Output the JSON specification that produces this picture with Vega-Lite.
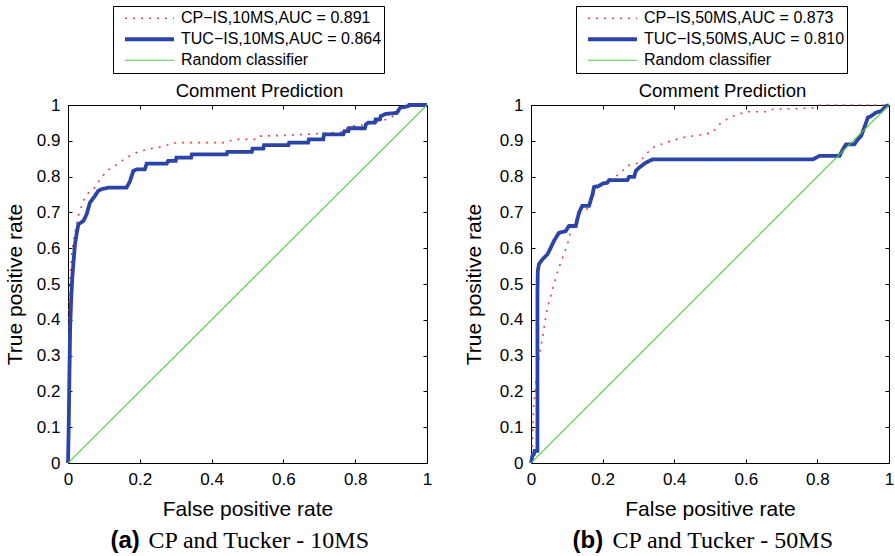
{
  "$schema": "https://vega.github.io/schema/vega-lite/v6.json",
  "padding": {"left": 3, "top": 5, "right": 0, "bottom": 0},
  "background": "white",
  "spacing": 104,
  "bounds": "flush",
  "datasets": {
    "roc": [
      {"panel": "a", "series": "CP−IS,10MS,AUC = 0.891", "fpr": 0, "tpr": 0},
      {"panel": "a", "series": "CP−IS,10MS,AUC = 0.891", "fpr": 0.001, "tpr": 0.15},
      {"panel": "a", "series": "CP−IS,10MS,AUC = 0.891", "fpr": 0.002, "tpr": 0.3},
      {"panel": "a", "series": "CP−IS,10MS,AUC = 0.891", "fpr": 0.003, "tpr": 0.45},
      {"panel": "a", "series": "CP−IS,10MS,AUC = 0.891", "fpr": 0.006, "tpr": 0.52},
      {"panel": "a", "series": "CP−IS,10MS,AUC = 0.891", "fpr": 0.01, "tpr": 0.58},
      {"panel": "a", "series": "CP−IS,10MS,AUC = 0.891", "fpr": 0.015, "tpr": 0.62},
      {"panel": "a", "series": "CP−IS,10MS,AUC = 0.891", "fpr": 0.022, "tpr": 0.657},
      {"panel": "a", "series": "CP−IS,10MS,AUC = 0.891", "fpr": 0.029, "tpr": 0.69},
      {"panel": "a", "series": "CP−IS,10MS,AUC = 0.891", "fpr": 0.038, "tpr": 0.718},
      {"panel": "a", "series": "CP−IS,10MS,AUC = 0.891", "fpr": 0.047, "tpr": 0.741},
      {"panel": "a", "series": "CP−IS,10MS,AUC = 0.891", "fpr": 0.061, "tpr": 0.76},
      {"panel": "a", "series": "CP−IS,10MS,AUC = 0.891", "fpr": 0.075, "tpr": 0.769},
      {"panel": "a", "series": "CP−IS,10MS,AUC = 0.891", "fpr": 0.089, "tpr": 0.792},
      {"panel": "a", "series": "CP−IS,10MS,AUC = 0.891", "fpr": 0.108, "tpr": 0.816},
      {"panel": "a", "series": "CP−IS,10MS,AUC = 0.891", "fpr": 0.131, "tpr": 0.83},
      {"panel": "a", "series": "CP−IS,10MS,AUC = 0.891", "fpr": 0.15, "tpr": 0.844},
      {"panel": "a", "series": "CP−IS,10MS,AUC = 0.891", "fpr": 0.163, "tpr": 0.853},
      {"panel": "a", "series": "CP−IS,10MS,AUC = 0.891", "fpr": 0.191, "tpr": 0.867},
      {"panel": "a", "series": "CP−IS,10MS,AUC = 0.891", "fpr": 0.219, "tpr": 0.876},
      {"panel": "a", "series": "CP−IS,10MS,AUC = 0.891", "fpr": 0.256, "tpr": 0.883},
      {"panel": "a", "series": "CP−IS,10MS,AUC = 0.891", "fpr": 0.303, "tpr": 0.895},
      {"panel": "a", "series": "CP−IS,10MS,AUC = 0.891", "fpr": 0.442, "tpr": 0.895},
      {"panel": "a", "series": "CP−IS,10MS,AUC = 0.891", "fpr": 0.46, "tpr": 0.904},
      {"panel": "a", "series": "CP−IS,10MS,AUC = 0.891", "fpr": 0.526, "tpr": 0.904},
      {"panel": "a", "series": "CP−IS,10MS,AUC = 0.891", "fpr": 0.535, "tpr": 0.913},
      {"panel": "a", "series": "CP−IS,10MS,AUC = 0.891", "fpr": 0.6, "tpr": 0.915},
      {"panel": "a", "series": "CP−IS,10MS,AUC = 0.891", "fpr": 0.7, "tpr": 0.92},
      {"panel": "a", "series": "CP−IS,10MS,AUC = 0.891", "fpr": 0.77, "tpr": 0.925},
      {"panel": "a", "series": "CP−IS,10MS,AUC = 0.891", "fpr": 0.78, "tpr": 0.94},
      {"panel": "a", "series": "CP−IS,10MS,AUC = 0.891", "fpr": 0.832, "tpr": 0.946},
      {"panel": "a", "series": "CP−IS,10MS,AUC = 0.891", "fpr": 0.878, "tpr": 0.957},
      {"panel": "a", "series": "CP−IS,10MS,AUC = 0.891", "fpr": 0.9, "tpr": 0.965},
      {"panel": "a", "series": "CP−IS,10MS,AUC = 0.891", "fpr": 0.934, "tpr": 0.99},
      {"panel": "a", "series": "CP−IS,10MS,AUC = 0.891", "fpr": 0.96, "tpr": 1},
      {"panel": "a", "series": "CP−IS,10MS,AUC = 0.891", "fpr": 1, "tpr": 1},
      {"panel": "a", "series": "TUC−IS,10MS,AUC = 0.864", "fpr": 0, "tpr": 0},
      {"panel": "a", "series": "TUC−IS,10MS,AUC = 0.864", "fpr": 0.002, "tpr": 0.1},
      {"panel": "a", "series": "TUC−IS,10MS,AUC = 0.864", "fpr": 0.004, "tpr": 0.25},
      {"panel": "a", "series": "TUC−IS,10MS,AUC = 0.864", "fpr": 0.006, "tpr": 0.38},
      {"panel": "a", "series": "TUC−IS,10MS,AUC = 0.864", "fpr": 0.009, "tpr": 0.46},
      {"panel": "a", "series": "TUC−IS,10MS,AUC = 0.864", "fpr": 0.012, "tpr": 0.52},
      {"panel": "a", "series": "TUC−IS,10MS,AUC = 0.864", "fpr": 0.016, "tpr": 0.57},
      {"panel": "a", "series": "TUC−IS,10MS,AUC = 0.864", "fpr": 0.0195, "tpr": 0.611},
      {"panel": "a", "series": "TUC−IS,10MS,AUC = 0.864", "fpr": 0.024, "tpr": 0.64},
      {"panel": "a", "series": "TUC−IS,10MS,AUC = 0.864", "fpr": 0.029, "tpr": 0.667},
      {"panel": "a", "series": "TUC−IS,10MS,AUC = 0.864", "fpr": 0.043, "tpr": 0.676},
      {"panel": "a", "series": "TUC−IS,10MS,AUC = 0.864", "fpr": 0.052, "tpr": 0.695},
      {"panel": "a", "series": "TUC−IS,10MS,AUC = 0.864", "fpr": 0.061, "tpr": 0.727},
      {"panel": "a", "series": "TUC−IS,10MS,AUC = 0.864", "fpr": 0.075, "tpr": 0.746},
      {"panel": "a", "series": "TUC−IS,10MS,AUC = 0.864", "fpr": 0.084, "tpr": 0.76},
      {"panel": "a", "series": "TUC−IS,10MS,AUC = 0.864", "fpr": 0.094, "tpr": 0.765},
      {"panel": "a", "series": "TUC−IS,10MS,AUC = 0.864", "fpr": 0.112, "tpr": 0.769},
      {"panel": "a", "series": "TUC−IS,10MS,AUC = 0.864", "fpr": 0.163, "tpr": 0.769},
      {"panel": "a", "series": "TUC−IS,10MS,AUC = 0.864", "fpr": 0.173, "tpr": 0.788},
      {"panel": "a", "series": "TUC−IS,10MS,AUC = 0.864", "fpr": 0.182, "tpr": 0.816},
      {"panel": "a", "series": "TUC−IS,10MS,AUC = 0.864", "fpr": 0.191, "tpr": 0.82},
      {"panel": "a", "series": "TUC−IS,10MS,AUC = 0.864", "fpr": 0.214, "tpr": 0.82},
      {"panel": "a", "series": "TUC−IS,10MS,AUC = 0.864", "fpr": 0.219, "tpr": 0.836},
      {"panel": "a", "series": "TUC−IS,10MS,AUC = 0.864", "fpr": 0.275, "tpr": 0.836},
      {"panel": "a", "series": "TUC−IS,10MS,AUC = 0.864", "fpr": 0.279, "tpr": 0.844},
      {"panel": "a", "series": "TUC−IS,10MS,AUC = 0.864", "fpr": 0.3, "tpr": 0.844},
      {"panel": "a", "series": "TUC−IS,10MS,AUC = 0.864", "fpr": 0.302, "tpr": 0.853},
      {"panel": "a", "series": "TUC−IS,10MS,AUC = 0.864", "fpr": 0.343, "tpr": 0.853},
      {"panel": "a", "series": "TUC−IS,10MS,AUC = 0.864", "fpr": 0.345, "tpr": 0.862},
      {"panel": "a", "series": "TUC−IS,10MS,AUC = 0.864", "fpr": 0.442, "tpr": 0.862},
      {"panel": "a", "series": "TUC−IS,10MS,AUC = 0.864", "fpr": 0.444, "tpr": 0.869},
      {"panel": "a", "series": "TUC−IS,10MS,AUC = 0.864", "fpr": 0.512, "tpr": 0.869},
      {"panel": "a", "series": "TUC−IS,10MS,AUC = 0.864", "fpr": 0.514, "tpr": 0.878},
      {"panel": "a", "series": "TUC−IS,10MS,AUC = 0.864", "fpr": 0.544, "tpr": 0.878},
      {"panel": "a", "series": "TUC−IS,10MS,AUC = 0.864", "fpr": 0.546, "tpr": 0.888},
      {"panel": "a", "series": "TUC−IS,10MS,AUC = 0.864", "fpr": 0.614, "tpr": 0.888},
      {"panel": "a", "series": "TUC−IS,10MS,AUC = 0.864", "fpr": 0.616, "tpr": 0.895},
      {"panel": "a", "series": "TUC−IS,10MS,AUC = 0.864", "fpr": 0.669, "tpr": 0.895},
      {"panel": "a", "series": "TUC−IS,10MS,AUC = 0.864", "fpr": 0.671, "tpr": 0.904},
      {"panel": "a", "series": "TUC−IS,10MS,AUC = 0.864", "fpr": 0.711, "tpr": 0.904},
      {"panel": "a", "series": "TUC−IS,10MS,AUC = 0.864", "fpr": 0.713, "tpr": 0.918},
      {"panel": "a", "series": "TUC−IS,10MS,AUC = 0.864", "fpr": 0.767, "tpr": 0.918},
      {"panel": "a", "series": "TUC−IS,10MS,AUC = 0.864", "fpr": 0.77, "tpr": 0.927},
      {"panel": "a", "series": "TUC−IS,10MS,AUC = 0.864", "fpr": 0.781, "tpr": 0.927},
      {"panel": "a", "series": "TUC−IS,10MS,AUC = 0.864", "fpr": 0.783, "tpr": 0.935},
      {"panel": "a", "series": "TUC−IS,10MS,AUC = 0.864", "fpr": 0.827, "tpr": 0.935},
      {"panel": "a", "series": "TUC−IS,10MS,AUC = 0.864", "fpr": 0.83, "tpr": 0.946},
      {"panel": "a", "series": "TUC−IS,10MS,AUC = 0.864", "fpr": 0.837, "tpr": 0.951},
      {"panel": "a", "series": "TUC−IS,10MS,AUC = 0.864", "fpr": 0.855, "tpr": 0.951},
      {"panel": "a", "series": "TUC−IS,10MS,AUC = 0.864", "fpr": 0.857, "tpr": 0.96},
      {"panel": "a", "series": "TUC−IS,10MS,AUC = 0.864", "fpr": 0.869, "tpr": 0.96},
      {"panel": "a", "series": "TUC−IS,10MS,AUC = 0.864", "fpr": 0.871, "tpr": 0.969},
      {"panel": "a", "series": "TUC−IS,10MS,AUC = 0.864", "fpr": 0.885, "tpr": 0.975},
      {"panel": "a", "series": "TUC−IS,10MS,AUC = 0.864", "fpr": 0.916, "tpr": 0.978},
      {"panel": "a", "series": "TUC−IS,10MS,AUC = 0.864", "fpr": 0.925, "tpr": 0.992},
      {"panel": "a", "series": "TUC−IS,10MS,AUC = 0.864", "fpr": 0.948, "tpr": 0.997},
      {"panel": "a", "series": "TUC−IS,10MS,AUC = 0.864", "fpr": 0.95, "tpr": 1},
      {"panel": "a", "series": "TUC−IS,10MS,AUC = 0.864", "fpr": 1, "tpr": 1},
      {"panel": "a", "series": "Random classifier", "fpr": 0, "tpr": 0},
      {"panel": "a", "series": "Random classifier", "fpr": 1, "tpr": 1},
      {"panel": "b", "series": "CP−IS,50MS,AUC = 0.873", "fpr": 0, "tpr": 0},
      {"panel": "b", "series": "CP−IS,50MS,AUC = 0.873", "fpr": 0.002, "tpr": 0.005},
      {"panel": "b", "series": "CP−IS,50MS,AUC = 0.873", "fpr": 0.004, "tpr": 0.061},
      {"panel": "b", "series": "CP−IS,50MS,AUC = 0.873", "fpr": 0.007, "tpr": 0.154},
      {"panel": "b", "series": "CP−IS,50MS,AUC = 0.873", "fpr": 0.01, "tpr": 0.182},
      {"panel": "b", "series": "CP−IS,50MS,AUC = 0.873", "fpr": 0.014, "tpr": 0.23},
      {"panel": "b", "series": "CP−IS,50MS,AUC = 0.873", "fpr": 0.018, "tpr": 0.266},
      {"panel": "b", "series": "CP−IS,50MS,AUC = 0.873", "fpr": 0.027, "tpr": 0.322},
      {"panel": "b", "series": "CP−IS,50MS,AUC = 0.873", "fpr": 0.032, "tpr": 0.35},
      {"panel": "b", "series": "CP−IS,50MS,AUC = 0.873", "fpr": 0.041, "tpr": 0.406},
      {"panel": "b", "series": "CP−IS,50MS,AUC = 0.873", "fpr": 0.046, "tpr": 0.434},
      {"panel": "b", "series": "CP−IS,50MS,AUC = 0.873", "fpr": 0.055, "tpr": 0.466},
      {"panel": "b", "series": "CP−IS,50MS,AUC = 0.873", "fpr": 0.064, "tpr": 0.499},
      {"panel": "b", "series": "CP−IS,50MS,AUC = 0.873", "fpr": 0.078, "tpr": 0.546},
      {"panel": "b", "series": "CP−IS,50MS,AUC = 0.873", "fpr": 0.092, "tpr": 0.583},
      {"panel": "b", "series": "CP−IS,50MS,AUC = 0.873", "fpr": 0.102, "tpr": 0.611},
      {"panel": "b", "series": "CP−IS,50MS,AUC = 0.873", "fpr": 0.111, "tpr": 0.648},
      {"panel": "b", "series": "CP−IS,50MS,AUC = 0.873", "fpr": 0.134, "tpr": 0.695},
      {"panel": "b", "series": "CP−IS,50MS,AUC = 0.873", "fpr": 0.162, "tpr": 0.713},
      {"panel": "b", "series": "CP−IS,50MS,AUC = 0.873", "fpr": 0.176, "tpr": 0.751},
      {"panel": "b", "series": "CP−IS,50MS,AUC = 0.873", "fpr": 0.19, "tpr": 0.778},
      {"panel": "b", "series": "CP−IS,50MS,AUC = 0.873", "fpr": 0.218, "tpr": 0.792},
      {"panel": "b", "series": "CP−IS,50MS,AUC = 0.873", "fpr": 0.246, "tpr": 0.806},
      {"panel": "b", "series": "CP−IS,50MS,AUC = 0.873", "fpr": 0.269, "tpr": 0.83},
      {"panel": "b", "series": "CP−IS,50MS,AUC = 0.873", "fpr": 0.302, "tpr": 0.839},
      {"panel": "b", "series": "CP−IS,50MS,AUC = 0.873", "fpr": 0.321, "tpr": 0.862},
      {"panel": "b", "series": "CP−IS,50MS,AUC = 0.873", "fpr": 0.339, "tpr": 0.881},
      {"panel": "b", "series": "CP−IS,50MS,AUC = 0.873", "fpr": 0.377, "tpr": 0.895},
      {"panel": "b", "series": "CP−IS,50MS,AUC = 0.873", "fpr": 0.423, "tpr": 0.909},
      {"panel": "b", "series": "CP−IS,50MS,AUC = 0.873", "fpr": 0.47, "tpr": 0.916},
      {"panel": "b", "series": "CP−IS,50MS,AUC = 0.873", "fpr": 0.507, "tpr": 0.923},
      {"panel": "b", "series": "CP−IS,50MS,AUC = 0.873", "fpr": 0.526, "tpr": 0.946},
      {"panel": "b", "series": "CP−IS,50MS,AUC = 0.873", "fpr": 0.554, "tpr": 0.965},
      {"panel": "b", "series": "CP−IS,50MS,AUC = 0.873", "fpr": 0.601, "tpr": 0.981},
      {"panel": "b", "series": "CP−IS,50MS,AUC = 0.873", "fpr": 0.657, "tpr": 0.981},
      {"panel": "b", "series": "CP−IS,50MS,AUC = 0.873", "fpr": 0.675, "tpr": 0.988},
      {"panel": "b", "series": "CP−IS,50MS,AUC = 0.873", "fpr": 0.796, "tpr": 0.992},
      {"panel": "b", "series": "CP−IS,50MS,AUC = 0.873", "fpr": 0.806, "tpr": 1},
      {"panel": "b", "series": "CP−IS,50MS,AUC = 0.873", "fpr": 1, "tpr": 1},
      {"panel": "b", "series": "TUC−IS,50MS,AUC = 0.810", "fpr": 0, "tpr": 0},
      {"panel": "b", "series": "TUC−IS,50MS,AUC = 0.810", "fpr": 0.004, "tpr": 0.02},
      {"panel": "b", "series": "TUC−IS,50MS,AUC = 0.810", "fpr": 0.008, "tpr": 0.024},
      {"panel": "b", "series": "TUC−IS,50MS,AUC = 0.810", "fpr": 0.01, "tpr": 0.034},
      {"panel": "b", "series": "TUC−IS,50MS,AUC = 0.810", "fpr": 0.018, "tpr": 0.034},
      {"panel": "b", "series": "TUC−IS,50MS,AUC = 0.810", "fpr": 0.018, "tpr": 0.48},
      {"panel": "b", "series": "TUC−IS,50MS,AUC = 0.810", "fpr": 0.019, "tpr": 0.536},
      {"panel": "b", "series": "TUC−IS,50MS,AUC = 0.810", "fpr": 0.022, "tpr": 0.555},
      {"panel": "b", "series": "TUC−IS,50MS,AUC = 0.810", "fpr": 0.032, "tpr": 0.569},
      {"panel": "b", "series": "TUC−IS,50MS,AUC = 0.810", "fpr": 0.046, "tpr": 0.583},
      {"panel": "b", "series": "TUC−IS,50MS,AUC = 0.810", "fpr": 0.055, "tpr": 0.601},
      {"panel": "b", "series": "TUC−IS,50MS,AUC = 0.810", "fpr": 0.064, "tpr": 0.62},
      {"panel": "b", "series": "TUC−IS,50MS,AUC = 0.810", "fpr": 0.078, "tpr": 0.643},
      {"panel": "b", "series": "TUC−IS,50MS,AUC = 0.810", "fpr": 0.097, "tpr": 0.648},
      {"panel": "b", "series": "TUC−IS,50MS,AUC = 0.810", "fpr": 0.106, "tpr": 0.662},
      {"panel": "b", "series": "TUC−IS,50MS,AUC = 0.810", "fpr": 0.125, "tpr": 0.662},
      {"panel": "b", "series": "TUC−IS,50MS,AUC = 0.810", "fpr": 0.134, "tpr": 0.699},
      {"panel": "b", "series": "TUC−IS,50MS,AUC = 0.810", "fpr": 0.143, "tpr": 0.718},
      {"panel": "b", "series": "TUC−IS,50MS,AUC = 0.810", "fpr": 0.162, "tpr": 0.718},
      {"panel": "b", "series": "TUC−IS,50MS,AUC = 0.810", "fpr": 0.172, "tpr": 0.751},
      {"panel": "b", "series": "TUC−IS,50MS,AUC = 0.810", "fpr": 0.176, "tpr": 0.771},
      {"panel": "b", "series": "TUC−IS,50MS,AUC = 0.810", "fpr": 0.19, "tpr": 0.774},
      {"panel": "b", "series": "TUC−IS,50MS,AUC = 0.810", "fpr": 0.199, "tpr": 0.78},
      {"panel": "b", "series": "TUC−IS,50MS,AUC = 0.810", "fpr": 0.213, "tpr": 0.783},
      {"panel": "b", "series": "TUC−IS,50MS,AUC = 0.810", "fpr": 0.218, "tpr": 0.79},
      {"panel": "b", "series": "TUC−IS,50MS,AUC = 0.810", "fpr": 0.269, "tpr": 0.79},
      {"panel": "b", "series": "TUC−IS,50MS,AUC = 0.810", "fpr": 0.274, "tpr": 0.799},
      {"panel": "b", "series": "TUC−IS,50MS,AUC = 0.810", "fpr": 0.288, "tpr": 0.799},
      {"panel": "b", "series": "TUC−IS,50MS,AUC = 0.810", "fpr": 0.293, "tpr": 0.816},
      {"panel": "b", "series": "TUC−IS,50MS,AUC = 0.810", "fpr": 0.302, "tpr": 0.825},
      {"panel": "b", "series": "TUC−IS,50MS,AUC = 0.810", "fpr": 0.321, "tpr": 0.839},
      {"panel": "b", "series": "TUC−IS,50MS,AUC = 0.810", "fpr": 0.339, "tpr": 0.848},
      {"panel": "b", "series": "TUC−IS,50MS,AUC = 0.810", "fpr": 0.787, "tpr": 0.848},
      {"panel": "b", "series": "TUC−IS,50MS,AUC = 0.810", "fpr": 0.806, "tpr": 0.858},
      {"panel": "b", "series": "TUC−IS,50MS,AUC = 0.810", "fpr": 0.862, "tpr": 0.858},
      {"panel": "b", "series": "TUC−IS,50MS,AUC = 0.810", "fpr": 0.871, "tpr": 0.876},
      {"panel": "b", "series": "TUC−IS,50MS,AUC = 0.810", "fpr": 0.88, "tpr": 0.89},
      {"panel": "b", "series": "TUC−IS,50MS,AUC = 0.810", "fpr": 0.903, "tpr": 0.89},
      {"panel": "b", "series": "TUC−IS,50MS,AUC = 0.810", "fpr": 0.913, "tpr": 0.904},
      {"panel": "b", "series": "TUC−IS,50MS,AUC = 0.810", "fpr": 0.922, "tpr": 0.913},
      {"panel": "b", "series": "TUC−IS,50MS,AUC = 0.810", "fpr": 0.931, "tpr": 0.937},
      {"panel": "b", "series": "TUC−IS,50MS,AUC = 0.810", "fpr": 0.941, "tpr": 0.965},
      {"panel": "b", "series": "TUC−IS,50MS,AUC = 0.810", "fpr": 0.95, "tpr": 0.969},
      {"panel": "b", "series": "TUC−IS,50MS,AUC = 0.810", "fpr": 0.964, "tpr": 0.979},
      {"panel": "b", "series": "TUC−IS,50MS,AUC = 0.810", "fpr": 0.978, "tpr": 0.983},
      {"panel": "b", "series": "TUC−IS,50MS,AUC = 0.810", "fpr": 0.992, "tpr": 0.997},
      {"panel": "b", "series": "TUC−IS,50MS,AUC = 0.810", "fpr": 1, "tpr": 1},
      {"panel": "b", "series": "Random classifier", "fpr": 0, "tpr": 0},
      {"panel": "b", "series": "Random classifier", "fpr": 1, "tpr": 1}
    ]
  },
  "hconcat": [
    {
      "width": 359,
      "height": 358,
      "data": {"name": "roc"},
      "transform": [{"filter": "datum.panel == 'a'"}],
      "layer": [
        {
          "mark": {"type": "line", "strokeCap": "butt", "strokeJoin": "miter"},
          "encoding": {
            "x": {"field": "fpr", "type": "quantitative", "scale": {"domain": [0, 1], "nice": false, "zero": false},
              "axis": {"orient": "bottom", "values": [0, 0.2, 0.4, 0.6, 0.8, 1], "format": "~g", "title": "False positive rate", "titleY": 52, "titleBaseline": "alphabetic", "titleFontSize": 21}},
            "y": {"field": "tpr", "type": "quantitative", "scale": {"domain": [0, 1], "nice": false},
              "axis": {"orient": "left", "values": [0, 0.1, 0.2, 0.3, 0.4, 0.5, 0.6, 0.7, 0.8, 0.9, 1], "format": "~g", "title": "True positive rate", "titleX": -47, "titleY": 179, "titleAngle": -90, "titleBaseline": "alphabetic", "titleFontSize": 21}},
            "color": {"field": "series", "type": "nominal",
              "scale": {"domain": ["CP−IS,10MS,AUC = 0.891", "TUC−IS,10MS,AUC = 0.864", "Random classifier"], "range": ["#e8434a", "#2c44a6", "#4ccc3c"]},
              "legend": {"orient": "none", "legendX": 45, "legendY": -99, "title": null}},
            "strokeDash": {"field": "series", "type": "nominal",
              "scale": {"domain": ["CP−IS,10MS,AUC = 0.891", "TUC−IS,10MS,AUC = 0.864", "Random classifier"], "range": [[2, 6], [1, 0], [1, 0]]},
              "legend": {"orient": "none", "legendX": 45, "legendY": -99, "title": null}},
            "strokeWidth": {"field": "series", "type": "nominal",
              "scale": {"type": "ordinal", "domain": ["CP−IS,10MS,AUC = 0.891", "TUC−IS,10MS,AUC = 0.864", "Random classifier"], "range": [1.6, 3.8, 1.1]},
              "legend": {"orient": "none", "legendX": 45, "legendY": -99, "title": null}},
            "order": {"value": null}
          }
        },
        {
          "mark": {"type": "point", "opacity": 0},
          "encoding": {
            "x": {"field": "fpr", "type": "quantitative",
              "axis": {"orient": "top", "values": [0, 0.2, 0.4, 0.6, 0.8, 1], "labels": false, "title": "Comment Prediction", "titleFontSize": 18.5, "titleY": -9, "titleX": 191, "titleBaseline": "alphabetic"}},
            "y": {"field": "tpr", "type": "quantitative",
              "axis": {"orient": "right", "values": [0, 0.1, 0.2, 0.3, 0.4, 0.5, 0.6, 0.7, 0.8, 0.9, 1], "labels": false, "title": null}}
          }
        },
        {
          "mark": {"type": "point", "opacity": 0},
          "encoding": {
            "x": {"field": "fpr", "type": "quantitative",
              "axis": {"orient": "bottom", "labels": false, "ticks": false, "title": "(a)", "titleFontWeight": "bold", "titleFontSize": 24, "titleAlign": "left", "titleX": 42, "titleY": 84, "titleBaseline": "alphabetic"}}
          }
        },
        {
          "mark": {"type": "point", "opacity": 0},
          "encoding": {
            "x": {"field": "fpr", "type": "quantitative",
              "axis": {"orient": "bottom", "labels": false, "ticks": false, "title": "CP and Tucker - 10MS", "titleFont": "Liberation Serif", "titleFontSize": 24, "titleAlign": "left", "titleX": 80, "titleY": 84, "titleBaseline": "alphabetic"}}
          }
        }
      ],
      "resolve": {"axis": {"x": "independent", "y": "independent"}}
    },
    {
      "width": 358,
      "height": 358,
      "data": {"name": "roc"},
      "transform": [{"filter": "datum.panel == 'b'"}],
      "layer": [
        {
          "mark": {"type": "line", "strokeCap": "butt", "strokeJoin": "miter"},
          "encoding": {
            "x": {"field": "fpr", "type": "quantitative", "scale": {"domain": [0, 1], "nice": false, "zero": false},
              "axis": {"orient": "bottom", "values": [0, 0.2, 0.4, 0.6, 0.8, 1], "format": "~g", "title": "False positive rate", "titleY": 52, "titleBaseline": "alphabetic", "titleFontSize": 21}},
            "y": {"field": "tpr", "type": "quantitative", "scale": {"domain": [0, 1], "nice": false},
              "axis": {"orient": "left", "values": [0, 0.1, 0.2, 0.3, 0.4, 0.5, 0.6, 0.7, 0.8, 0.9, 1], "format": "~g", "title": "True positive rate", "titleX": -51, "titleY": 179, "titleAngle": -90, "titleBaseline": "alphabetic", "titleFontSize": 21}},
            "color": {"field": "series", "type": "nominal",
              "scale": {"domain": ["CP−IS,50MS,AUC = 0.873", "TUC−IS,50MS,AUC = 0.810", "Random classifier"], "range": ["#e8434a", "#2c44a6", "#4ccc3c"]},
              "legend": {"orient": "none", "legendX": 45, "legendY": -99, "title": null}},
            "strokeDash": {"field": "series", "type": "nominal",
              "scale": {"domain": ["CP−IS,50MS,AUC = 0.873", "TUC−IS,50MS,AUC = 0.810", "Random classifier"], "range": [[2, 6], [1, 0], [1, 0]]},
              "legend": {"orient": "none", "legendX": 45, "legendY": -99, "title": null}},
            "strokeWidth": {"field": "series", "type": "nominal",
              "scale": {"type": "ordinal", "domain": ["CP−IS,50MS,AUC = 0.873", "TUC−IS,50MS,AUC = 0.810", "Random classifier"], "range": [1.6, 3.8, 1.1]},
              "legend": {"orient": "none", "legendX": 45, "legendY": -99, "title": null}},
            "order": {"value": null}
          }
        },
        {
          "mark": {"type": "point", "opacity": 0},
          "encoding": {
            "x": {"field": "fpr", "type": "quantitative",
              "axis": {"orient": "top", "values": [0, 0.2, 0.4, 0.6, 0.8, 1], "labels": false, "title": "Comment Prediction", "titleFontSize": 18.5, "titleY": -9, "titleX": 191, "titleBaseline": "alphabetic"}},
            "y": {"field": "tpr", "type": "quantitative",
              "axis": {"orient": "right", "values": [0, 0.1, 0.2, 0.3, 0.4, 0.5, 0.6, 0.7, 0.8, 0.9, 1], "labels": false, "title": null}}
          }
        },
        {
          "mark": {"type": "point", "opacity": 0},
          "encoding": {
            "x": {"field": "fpr", "type": "quantitative",
              "axis": {"orient": "bottom", "labels": false, "ticks": false, "title": "(b)", "titleFontWeight": "bold", "titleFontSize": 24, "titleAlign": "left", "titleX": 41, "titleY": 84, "titleBaseline": "alphabetic"}}
          }
        },
        {
          "mark": {"type": "point", "opacity": 0},
          "encoding": {
            "x": {"field": "fpr", "type": "quantitative",
              "axis": {"orient": "bottom", "labels": false, "ticks": false, "title": "CP and Tucker - 50MS", "titleFont": "Liberation Serif", "titleFontSize": 24, "titleAlign": "left", "titleX": 81, "titleY": 84, "titleBaseline": "alphabetic"}}
          }
        }
      ],
      "resolve": {"axis": {"x": "independent", "y": "independent"}}
    }
  ],
  "resolve": {"scale": {"color": "independent", "strokeDash": "independent", "strokeWidth": "independent"}, "legend": {"color": "independent", "strokeDash": "independent", "strokeWidth": "independent"}},
  "config": {
    "font": "Liberation Sans",
    "view": {"stroke": "black", "strokeWidth": 1},
    "axis": {
      "grid": false,
      "domain": false,
      "tickSize": -4,
      "tickColor": "black",
      "tickWidth": 1,
      "labelFont": "Liberation Sans",
      "labelFontSize": 17,
      "labelColor": "black",
      "labelPadding": 12,
      "labelFlush": false,
      "labelOverlap": false,
      "titleFont": "Liberation Sans",
      "titleFontWeight": "normal",
      "titleColor": "black",
      "titlePadding": 0
    },
    "legend": {
      "symbolType": "stroke",
      "symbolSize": 2401,
      "symbolOffset": 8,
      "labelFont": "Liberation Sans",
      "labelFontSize": 16,
      "labelColor": "black",
      "labelOffset": 5,
      "labelLimit": 400,
      "clipHeight": 20.5,
      "rowPadding": 0,
      "padding": 2,
      "strokeColor": "black",
      "fillColor": "white"
    }
  }
}
